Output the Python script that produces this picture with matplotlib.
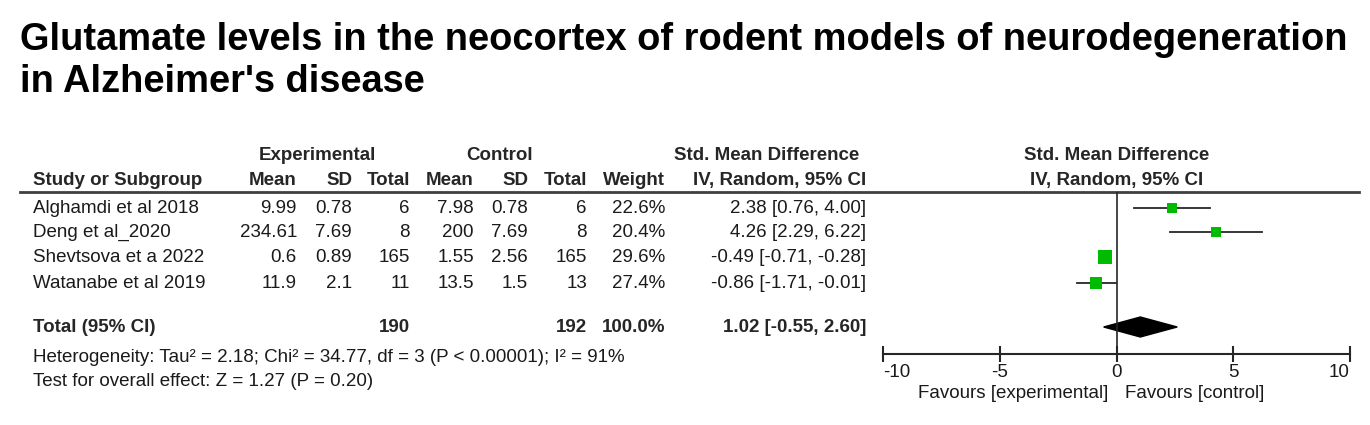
import matplotlib.pyplot as plt

plt.rcParams['font.family'] = ['Liberation Sans', 'DejaVu Sans']

# data
studies = ['Alghamdi et al 2018', 'Deng et al_2020', 'Shevtsova et a 2022', 'Watanabe et al 2019']
exp_mean = ['9.99', '234.61', '0.6', '11.9']
exp_sd = ['0.78', '7.69', '0.89', '2.1']
exp_n = [6, 8, 165, 11]
ctl_mean = ['7.98', '200', '1.55', '13.5']
ctl_sd = ['0.78', '7.69', '2.56', '1.5']
ctl_n = [6, 8, 165, 13]
weight = [22.6, 20.4, 29.6, 27.4]
smd = [2.38, 4.26, -0.49, -0.86]
ci_lo = [0.76, 2.29, -0.71, -1.71]
ci_hi = [4.00, 6.22, -0.28, -0.01]

total_exp = 190
total_ctl = 192
total_smd = 1.02
total_lo = -0.55
total_hi = 2.60
heterogeneity = 'Heterogeneity: Tau² = 2.18; Chi² = 34.77, df = 3 (P < 0.00001); I² = 91%'
overall = 'Test for overall effect: Z = 1.27 (P = 0.20)'
xticks = [-10, -5, 0, 5, 10]
title_lines = ['Glutamate levels in the neocortex of rodent models of neurodegeneration',
               "in Alzheimer's disease"]

W, H = 1370, 425
fig = plt.figure(figsize=(W / 100, H / 100), dpi=100)

# text layer in pixel coordinates
tab = fig.add_axes([0, 0, 1, 1])
tab.set_xlim(0, W)
tab.set_ylim(H, 0)
tab.axis('off')

fs = 13.5
txtc = '#1a1a1a'
row_y = [208, 232, 257, 283]
total_y = 327

for yb, line in zip([50, 92], title_lines):
    tab.text(20, yb, line, fontsize=27.4, fontweight='bold', va='baseline', ha='left')

# headers
hdr = dict(fontsize=fs, fontweight='bold', color='#262626', va='center')
tab.text(317, 155, 'Experimental', ha='center', **hdr)
tab.text(500, 155, 'Control', ha='center', **hdr)
tab.text(767, 155, 'Std. Mean Difference', ha='center', **hdr)
tab.text(1117, 155, 'Std. Mean Difference', ha='center', **hdr)
tab.text(33, 180, 'Study or Subgroup', ha='left', **hdr)
cols = [(297, 'Mean'), (352, 'SD'), (410, 'Total'), (474, 'Mean'), (528, 'SD'),
        (587, 'Total'), (665, 'Weight'), (866, 'IV, Random, 95% CI')]
for x, lab in cols:
    tab.text(x, 180, lab, ha='right', **hdr)
tab.text(1117, 180, 'IV, Random, 95% CI', ha='center', **hdr)

tab.plot([20, 1359], [192, 192], color='#404040', lw=2)

# study rows
row = dict(fontsize=fs, color=txtc, va='center')
for i, y in enumerate(row_y):
    tab.text(33, y, studies[i], ha='left', **row)
    tab.text(297, y, exp_mean[i], ha='right', **row)
    tab.text(352, y, exp_sd[i], ha='right', **row)
    tab.text(410, y, str(exp_n[i]), ha='right', **row)
    tab.text(474, y, ctl_mean[i], ha='right', **row)
    tab.text(528, y, ctl_sd[i], ha='right', **row)
    tab.text(587, y, str(ctl_n[i]), ha='right', **row)
    tab.text(665, y, f'{weight[i]:.1f}%', ha='right', **row)
    tab.text(866, y, f'{smd[i]:.2f} [{ci_lo[i]:.2f}, {ci_hi[i]:.2f}]', ha='right', **row)

tab.text(33, total_y, 'Total (95% CI)', ha='left', **hdr)
tab.text(410, total_y, str(total_exp), ha='right', **hdr)
tab.text(587, total_y, str(total_ctl), ha='right', **hdr)
tab.text(665, total_y, f'{sum(weight):.1f}%', ha='right', **hdr)
tab.text(866, total_y, f'{total_smd:.2f} [{total_lo:.2f}, {total_hi:.2f}]', ha='right', **hdr)
tab.text(33, 357, heterogeneity, ha='left', **row)
tab.text(33, 382, overall, ha='left', **row)

# forest plot
x0, x1 = 883, 1350
ytop, ybot = 192, 354
fa = fig.add_axes([x0 / W, 1 - ybot / H, (x1 - x0) / W, (ybot - ytop) / H])
fa.set_xlim(-10, 10)
fa.set_ylim(ybot, ytop)
fa.patch.set_alpha(0)
for s in ['top', 'right', 'left']:
    fa.spines[s].set_visible(False)
fa.spines['bottom'].set_color('#262626')
fa.spines['bottom'].set_linewidth(1.5)
fa.set_yticks([])
fa.set_xticks(xticks)
fa.set_xticklabels([str(t) for t in xticks], fontsize=fs, color=txtc)
fa.tick_params(axis='x', direction='inout', length=11, width=1.5, color='#262626', pad=2)
labs = fa.get_xticklabels()
labs[0].set_ha('left')
labs[-1].set_ha('right')

fa.axvline(0, color='#262626', lw=1.2)
for i, y in enumerate(row_y):
    fa.plot([ci_lo[i], ci_hi[i]], [y, y], color='#262626', lw=1.3)
    fa.plot(smd[i], y, marker='s', color='#00bb00', markersize=weight[i] / 3.0, markeredgewidth=0)

fa.fill([total_lo, total_smd, total_hi, total_smd],
        [total_y, total_y - 10, total_y, total_y + 10], color='black')

tab.text(1108, 393, 'Favours [experimental]', ha='right', va='center', fontsize=fs, color=txtc)
tab.text(1125, 393, 'Favours [control]', ha='left', va='center', fontsize=fs, color=txtc)

fig.savefig('out.png', dpi=100)
